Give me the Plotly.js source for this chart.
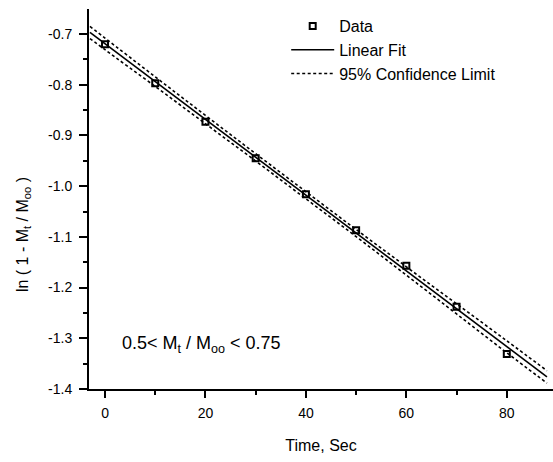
<!DOCTYPE html>
<html>
<head>
<meta charset="utf-8">
<script src="https://cdn.plot.ly/plotly-3.0.1.min.js"></script>
<style>html,body{margin:0;padding:0;background:#fff;}#chart{width:553px;height:462px;}</style>
</head>
<body>
<div id="chart"></div>
<script>
// Measured data points
var timeSec = [0, 10, 20, 30, 40, 50, 60, 70, 80];
var lnValues = [-0.720, -0.797, -0.873, -0.945, -1.016, -1.087, -1.157, -1.238, -1.331];

// Linear fit line
var fitX = [-3, 88];
var fitY = [-0.697, -1.376];

// 95% confidence limits
var ciX = [-3, 0, 10, 20, 30, 40, 50, 60, 70, 80, 88];
var ciUpper = [-0.6850, -0.7080, -0.7845, -0.8605, -0.9360, -1.0110, -1.0855, -1.1590, -1.2320, -1.3050, -1.3640];
var ciLower = [-0.7090, -0.7310, -0.8035, -0.8770, -0.9505, -1.0250, -1.0995, -1.1755, -1.2520, -1.3285, -1.3885];

var yTicks = [-1.4, -1.3, -1.2, -1.1, -1.0, -0.9, -0.8, -0.7];
var yTickText = ['-1.4', '-1.3', '-1.2', '-1.1', '-1.0', '-0.9', '-0.8', '-0.7'];
var xTicks = [0, 20, 40, 60, 80];

var FONT = 'Liberation Sans, Arial, sans-serif';

var traces = [
  {
    x: timeSec, y: lnValues, mode: 'markers', name: 'Data', legendgroup: 'a',
    marker: {symbol: 'square-open', size: 6, color: '#000', line: {color: '#000', width: 2}}
  },
  {
    x: fitX, y: fitY, mode: 'lines', name: 'Linear Fit', legendgroup: 'b',
    line: {color: '#000', width: 1.6}
  },
  {
    x: ciX, y: ciUpper, mode: 'lines', name: '95% Confidence Limit', legendgroup: 'c',
    line: {color: '#000', width: 1.6, dash: '3px,2.5px', shape: 'spline'}
  },
  {
    x: ciX, y: ciLower, mode: 'lines', name: '95% Confidence Limit lower', legendgroup: 'c', showlegend: false,
    line: {color: '#000', width: 1.6, dash: '3px,2.5px', shape: 'spline'}
  }
];

var layout = {
  width: 553, height: 462,
  margin: {l: 89, r: 0, t: 9, b: 73, pad: 0},
  paper_bgcolor: '#fff', plot_bgcolor: '#fff',
  font: {family: FONT, color: '#000', size: 14},
  showlegend: true,
  legend: {
    x: 0.425, y: 1.0, xanchor: 'left', yanchor: 'top',
    font: {family: FONT, size: 16, color: '#000'},
    bgcolor: 'rgba(0,0,0,0)', borderwidth: 0,
    itemwidth: 43, traceorder: 'grouped', tracegroupgap: 0
  },
  xaxis: {
    range: [-3.19, 89.2], showgrid: false, zeroline: false,
    showline: true, linecolor: '#000', linewidth: 2,
    tickmode: 'array', tickvals: xTicks,
    ticks: 'outside', ticklen: 7, tickwidth: 2, tickcolor: '#000',
    minor: {dtick: 10, tick0: 0, ticks: 'outside', ticklen: 4, tickwidth: 2, tickcolor: '#000', showgrid: false},
    tickfont: {family: FONT, size: 14, color: '#000'},
    ticklabelstandoff: 3,
    title: {text: 'Time, Sec', font: {family: FONT, size: 16, color: '#000'}, standoff: 20}
  },
  yaxis: {
    range: [-1.4, -0.6507], showgrid: false, zeroline: false,
    showline: true, linecolor: '#000', linewidth: 2,
    tickmode: 'array', tickvals: yTicks, ticktext: yTickText,
    ticks: 'outside', ticklen: 8, tickwidth: 2, tickcolor: '#000',
    minor: {dtick: 0.05, tick0: -1.4, ticks: 'outside', ticklen: 4, tickwidth: 2, tickcolor: '#000', showgrid: false},
    tickfont: {family: FONT, size: 14, color: '#000'},
    ticklabelstandoff: 4
  },
  annotations: [
    {
      x: -0.1422, y: 0.405, xref: 'paper', yref: 'paper', xanchor: 'center', yanchor: 'middle',
      textangle: -90, showarrow: false,
      text: 'ln ( 1 - M<sub>t</sub> / M<sub>oo</sub> )',
      font: {family: FONT, size: 16, color: '#000'}
    },
    {
      x: 2.9, y: -1.313, xref: 'x', yref: 'y', xanchor: 'left', yanchor: 'middle',
      text: '0.5< M<sub>t</sub> / M<sub>oo</sub> < 0.75', showarrow: false,
      font: {family: FONT, size: 18, color: '#000'}
    }
  ]
};

Plotly.newPlot('chart', traces, layout, {displayModeBar: false, staticPlot: true});
</script>
</body>
</html>
